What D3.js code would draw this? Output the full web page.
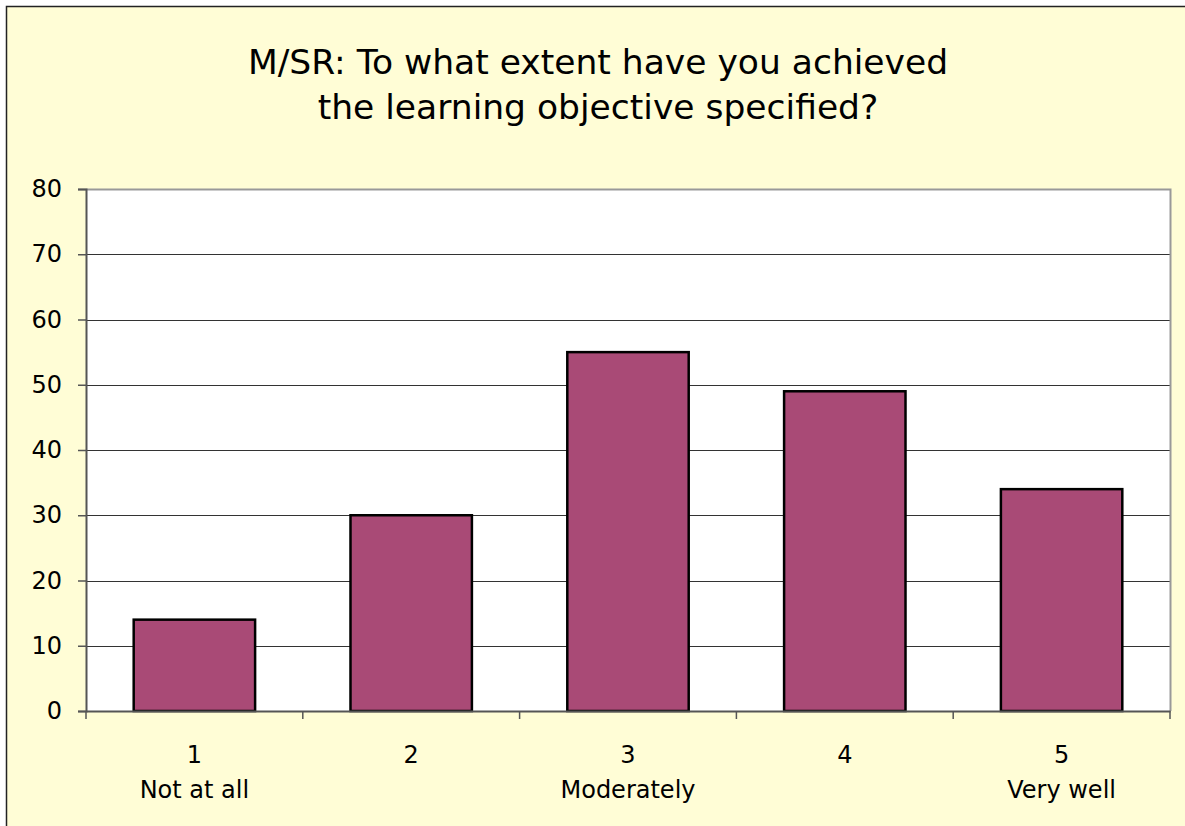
<!DOCTYPE html>
<html>
<head>
<meta charset="utf-8">
<script src="https://cdn.jsdelivr.net/npm/d3@7"></script>
<style>
  body { margin: 0; background: #fff; }
  svg { display: block; }
</style>
</head>
<body>
<svg id="chart"></svg>
<script>
let categories = ['1', '2', '3', '4', '5']
let catLabels = ['Not at all', '', 'Moderately', '', 'Very well']
let counts = [14, 30, 55, 49, 34]
let yTicks = [0, 10, 20, 30, 40, 50, 60, 70, 80]
let titleLines = ['M/SR: To what extent have you achieved', 'the learning objective specified?']

let width = 1185
let height = 826
let plot = {left: 86, right: 1170, top: 189, bottom: 711}
let font = '"DejaVu Sans", Verdana, sans-serif'

let svg = d3.select('#chart')
    .attr('width', width)
    .attr('height', height)

// frame
svg.append('rect')
   .attr('x', 6.5).attr('y', 6.5)
   .attr('width', 1240).attr('height', 900)
   .attr('fill', '#FFFDD6')
   .attr('stroke', '#222')
   .attr('stroke-width', 1.5)

// title
svg.append('text')
   .attr('x', 598)
   .attr('text-anchor', 'middle')
   .attr('font-family', font)
   .attr('font-size', 34.5)
   .attr('fill', '#000')
   .selectAll('tspan')
   .data(titleLines)
   .enter()
   .append('tspan')
   .attr('x', 598)
   .attr('y', (d, i) => 74 + i * 45)
   .text(d => d)

let xScale = d3.scaleBand()
    .domain(categories)
    .range([plot.left, plot.right])
    .paddingInner(0.44)
    .paddingOuter(0.22)

let yScale = d3.scaleLinear()
    .domain([0, 80])
    .range([plot.bottom, plot.top])

// plot background
svg.append('rect')
   .attr('x', plot.left).attr('y', plot.top)
   .attr('width', plot.right - plot.left)
   .attr('height', plot.bottom - plot.top)
   .attr('fill', '#fff')

// gridlines
svg.append('g')
   .selectAll('line')
   .data(yTicks.filter(t => t > 0 && t < 80))
   .enter()
   .append('line')
   .attr('x1', plot.left).attr('x2', plot.right)
   .attr('y1', d => Math.round(yScale(d)) + 0.5)
   .attr('y2', d => Math.round(yScale(d)) + 0.5)
   .attr('stroke', '#333')
   .attr('stroke-width', 1)

// top and right border of plot
svg.append('path')
   .attr('d', `M${plot.left},${plot.top + 0.5}H${plot.right + 0.5}V${plot.bottom}`)
   .attr('fill', 'none')
   .attr('stroke', '#999')
   .attr('stroke-width', 2)

// bars
svg.append('g')
   .selectAll('rect')
   .data(counts)
   .enter()
   .append('rect')
   .attr('x', (d, i) => xScale(categories[i]))
   .attr('y', d => yScale(d))
   .attr('width', xScale.bandwidth())
   .attr('height', d => yScale(0) - yScale(d))
   .attr('fill', '#A94A76')
   .attr('stroke', '#000')
   .attr('stroke-width', 2.5)

// y axis
let yAxis = d3.axisLeft(yScale)
    .tickValues(yTicks)
    .tickSize(8)
    .tickPadding(16)
let gy = svg.append('g')
   .attr('transform', `translate(${plot.left},0)`)
   .call(yAxis)
gy.select('.domain').attr('stroke', '#555').attr('stroke-width', 2)
gy.selectAll('.tick line').attr('stroke', '#555').attr('stroke-width', 1.5)
gy.selectAll('.tick text')
  .attr('font-family', font)
  .attr('font-size', 24)
  .attr('fill', '#000')

// x axis
let xAxis = d3.axisBottom(xScale).tickSize(0).tickFormat('')
let gx = svg.append('g')
   .attr('transform', `translate(0,${plot.bottom})`)
   .call(xAxis)
gx.select('.domain').attr('stroke', '#555').attr('stroke-width', 2)
gx.selectAll('.tick').remove()

// category boundary ticks
let bounds = d3.range(categories.length + 1).map(i => plot.left + i * (plot.right - plot.left) / categories.length)
gx.selectAll('.bound')
  .data(bounds)
  .enter()
  .append('line')
  .attr('class', 'bound')
  .attr('x1', d => d).attr('x2', d => d)
  .attr('y1', 0).attr('y2', 8)
  .attr('stroke', '#555')
  .attr('stroke-width', 1.5)

let labels = svg.append('g')
   .attr('font-family', font)
   .attr('font-size', 24)
   .attr('text-anchor', 'middle')
   .attr('fill', '#000')
categories.forEach((c, i) => {
    let cx = xScale(c) + xScale.bandwidth() / 2
    labels.append('text').attr('x', cx).attr('y', 763).text(c)
    labels.append('text').attr('x', cx).attr('y', 798).text(catLabels[i])
})
</script>
</body>
</html>
